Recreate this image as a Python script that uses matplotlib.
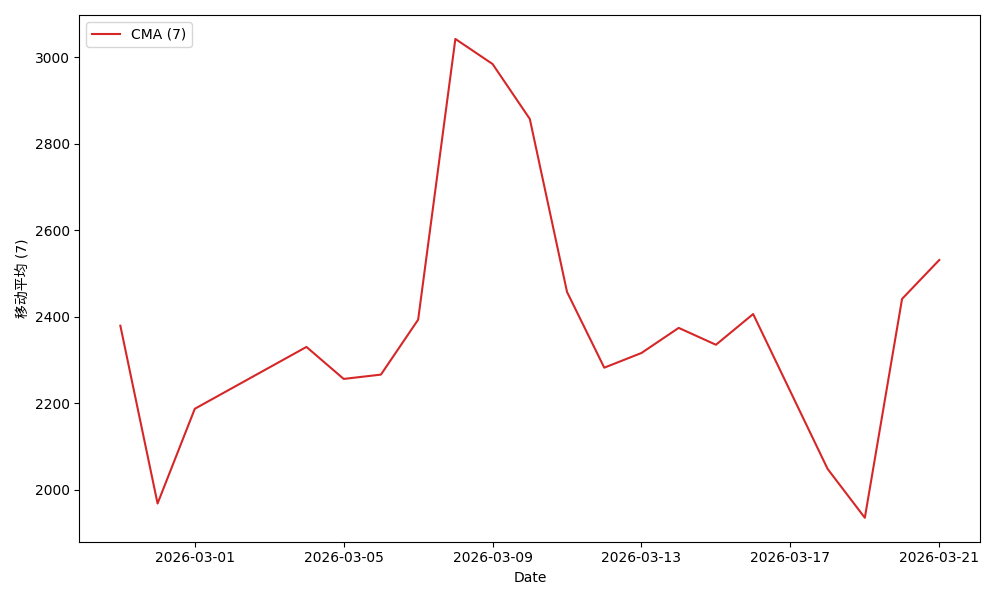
import pandas as pd
import matplotlib
matplotlib.use('Agg')
import matplotlib.pyplot as plt

plt.rcParams['font.family'] = ['DejaVu Sans', 'Noto Sans CJK SC']

dates = ['2026-02-27', '2026-02-28', '2026-03-01', '2026-03-04', '2026-03-05',
         '2026-03-06', '2026-03-07', '2026-03-08', '2026-03-09', '2026-03-10',
         '2026-03-11', '2026-03-12', '2026-03-13', '2026-03-14', '2026-03-15',
         '2026-03-16', '2026-03-18', '2026-03-19', '2026-03-20', '2026-03-21']
cma = [2379, 1968, 2187, 2330, 2256,
       2266, 2393, 3042, 2984, 2857,
       2457, 2282, 2316, 2374, 2335,
       2406, 2048, 1935, 2441, 2531]

x = pd.to_datetime(dates)

fig, ax = plt.subplots(figsize=(10, 6), dpi=100)
ax.plot(x, cma, color='tab:red', label='CMA (7)')
ax.set_xlabel('Date')
ax.set_ylabel('移动平均 (7)')
ax.legend(loc='upper left')

fig.tight_layout()
fig.savefig('out.png')
